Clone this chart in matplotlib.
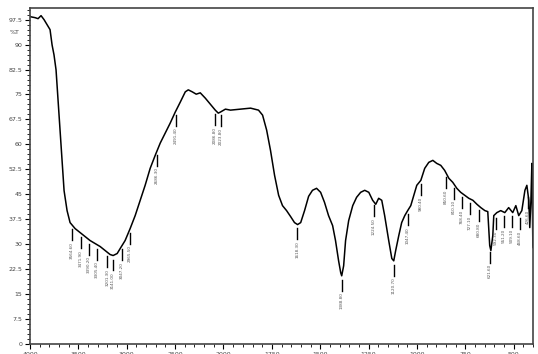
import numpy as np
import matplotlib
matplotlib.use("Agg")
import matplotlib.pyplot as plt
from matplotlib.ticker import FixedLocator, MultipleLocator

# spectrum: wavenumber [1/cm], transmittance [%T]
wavenumber = [4000, 3948, 3917, 3886, 3855, 3824, 3793, 3772, 3752, 3731, 3710, 3689,
              3669, 3648, 3617, 3586, 3534, 3482, 3431, 3379, 3327, 3275, 3224, 3172,
              3141, 3099, 3068, 3017, 2965, 2913, 2861, 2810, 2758, 2706, 2654, 2603,
              2551, 2499, 2447, 2395, 2364, 2323, 2282, 2240, 2188, 2137, 2085, 2054,
              2033, 1990, 1964, 1912, 1860, 1819, 1798, 1777, 1757, 1736, 1715, 1695,
              1674, 1653, 1633, 1617, 1601, 1581, 1560, 1540, 1519, 1498, 1478, 1457,
              1436, 1421, 1405, 1394, 1389, 1379, 1369, 1353, 1332, 1312, 1291, 1270,
              1249, 1229, 1213, 1198, 1182, 1167, 1146, 1130, 1120, 1110, 1094, 1079,
              1063, 1048, 1032, 1016, 1001, 980, 960, 939, 918, 898, 877, 857,
              835, 815, 794, 774, 753, 732, 711, 690, 670, 649, 634, 624,
              618, 608, 603, 587, 567, 546, 526, 505, 489, 474, 458, 442,
              432, 422, 417, 411, 406, 401, 400]
transmittance = [98.4, 98.1, 97.8, 98.7, 97.5, 96.0, 94.5, 89.9, 86.9, 82.4, 73.3, 64.3,
                 55.2, 46.1, 40.1, 36.5, 34.7, 33.5, 32.3, 31.1, 30.2, 29.3, 28.1, 26.9,
                 26.6, 27.2, 28.7, 31.1, 34.7, 38.6, 43.2, 47.7, 52.8, 56.7, 60.4, 63.4,
                 66.4, 69.7, 72.7, 75.8, 76.4, 75.8, 75.1, 75.5, 73.9, 72.1, 70.3, 69.4,
                 69.7, 70.6, 70.3, 70.6, 70.9, 70.3, 68.8, 64.3, 58.2, 50.7, 44.7, 41.6,
                 40.1, 38.3, 36.5, 35.9, 36.5, 40.1, 44.4, 46.2, 46.8, 45.6, 42.6, 38.6,
                 35.6, 31.1, 25.0, 21.4, 20.5, 23.5, 31.1, 37.1, 41.6, 44.1, 45.6, 46.2,
                 45.6, 43.2, 42.0, 43.8, 43.2, 38.6, 31.1, 25.7, 25.0, 28.1, 32.6, 36.5,
                 38.6, 40.1, 41.6, 44.7, 47.7, 49.2, 52.8, 54.6, 55.2, 54.3, 53.7, 52.2,
                 49.8, 48.6, 46.8, 45.6, 44.7, 43.8, 43.2, 42.0, 41.0, 40.1, 39.8, 29.6,
                 28.1, 32.6, 38.6, 39.5, 40.1, 39.5, 41.0, 39.5, 41.6, 38.6, 40.1, 46.2,
                 47.7, 43.2, 35.0, 43.2, 54.3, 29.6, 29.0]

# labelled peaks
peaks = [3564.6, 3471.9, 3390.2, 3305.4, 3201.3, 3141.0, 3047.2, 2965.5, 2686.3,
         2491.4, 2086.8, 2023.8, 1618.3, 1388.8, 1224.5, 1120.7, 1047.4, 980.4,
         850.6, 810.1, 768.4, 727.1, 680.8, 621.6, 592.3, 551.2, 509.1, 468.6, 426.6]

xticks = [4000, 3500, 3000, 2500, 2000, 1750, 1500, 1250, 1000, 750, 500]
yticks = [0, 7.5, 15, 22.5, 30, 37.5, 45, 52.5, 60, 67.5, 75, 82.5, 90, 97.5]


# Shimadzu style axis: region above 2000 1/cm compressed by 2
def fwd(w):
    w = np.asarray(w, dtype=float)
    return np.where(w > 2000, 2000 + (w - 2000) / 2, w)


def inv(u):
    u = np.asarray(u, dtype=float)
    return np.where(u > 2000, 2000 + (u - 2000) * 2, u)


fig = plt.figure(figsize=(5.38, 3.54), dpi=100)
ax = fig.add_axes([0.0558, 0.0282, 0.935, 0.9492])
ax.set_xscale("function", functions=(fwd, inv))
ax.plot(wavenumber, transmittance, color="black", lw=1.1)
ax.set_xlim(4000, 400)
ax.set_ylim(0, 101)

wn = np.array(wavenumber)[::-1]
tr = np.array(transmittance)[::-1]
for p in peaks:
    t = np.interp(p, wn, tr)
    ax.plot([p, p], [t - 1.2, t - 4.5], color="black", lw=1.0)
    ax.text(p, t - 5.0, f"{p:.2f}", rotation=90, ha="center", va="top",
            fontsize=3, color="#555555")

ax.xaxis.set_major_locator(FixedLocator(xticks))
minor_x = list(range(4000, 2000, -100)) + list(range(2000, 399, -50))
ax.xaxis.set_minor_locator(FixedLocator(minor_x))
ax.set_xticklabels([str(v) for v in xticks])
ax.yaxis.set_major_locator(FixedLocator(yticks))
ax.yaxis.set_minor_locator(MultipleLocator(1.5))
ax.set_yticklabels([f"{v:g}" for v in yticks])

ax.tick_params(axis="both", which="major", direction="out", length=3.5, width=0.8,
               labelsize=4.5, labelcolor="#444444", pad=2)
ax.tick_params(axis="both", which="minor", direction="out", length=2, width=0.6)
ax.tick_params(axis="x", which="major", pad=2)

for s in ax.spines.values():
    s.set_linewidth(1.2)
    s.set_color("#444444")

ax.text(-0.03, 0.928, "%T", transform=ax.transAxes, ha="center", va="center",
        fontsize=4.5, color="#444444")

fig.savefig("out.png", dpi=100)
